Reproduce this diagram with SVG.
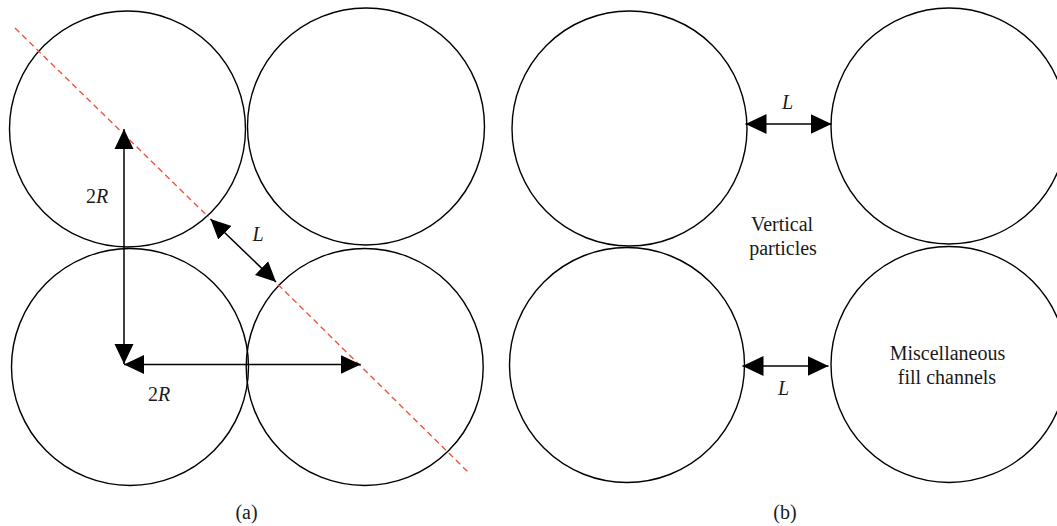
<svg xmlns="http://www.w3.org/2000/svg" width="1057" height="526" viewBox="0 0 1057 526">
<style>
.c{fill:none;stroke:#000;stroke-width:1.4}
.a{fill:none;stroke:#000;stroke-width:1.5}
.t{font-family:"Liberation Serif","Times New Roman",serif;font-size:20px;fill:#1a1a1a;text-anchor:middle}
.i{font-style:italic}
.red{fill:none;stroke:#f0553a;stroke-width:1.4;stroke-dasharray:6 4}
</style>
<defs>
<marker id="ah" markerUnits="userSpaceOnUse" markerWidth="20" markerHeight="20" viewBox="0 0 20 20" refX="20" refY="10" orient="auto-start-reverse">
<path d="M0,0.5 L20,10 L0,19.5 Z" fill="#000"/>
</marker>
<marker id="ah2" markerUnits="userSpaceOnUse" markerWidth="22" markerHeight="22" viewBox="0 0 22 22" refX="21" refY="11" orient="auto-start-reverse">
<path d="M0,1 L21,11 L0,21 Z" fill="#000"/>
</marker>
</defs>
<rect width="1057" height="526" fill="#fff"/>

<g id="panel-a">
<g id="a-tl"><circle class="c" cx="127.5" cy="129" r="118"/></g>
<g id="a-tr"><circle class="c" cx="366" cy="126.5" r="118.5"/></g>
<g id="a-bl"><circle class="c" cx="130" cy="367" r="118.5"/></g>
<g id="a-br"><circle class="c" cx="364.7" cy="367" r="118.5"/></g>
</g>

<g id="panel-b">
<g id="b-tl"><circle class="c" cx="629.5" cy="128.5" r="117.5"/></g>
<g id="b-tr"><circle class="c" cx="949" cy="126" r="118"/></g>
<g id="b-bl"><circle class="c" cx="627" cy="365" r="117.5"/></g>
<g id="b-br"><circle class="c" cx="949" cy="364.5" r="118"/></g>
</g>

<g id="connectors">
<path class="red" d="M15,28 L208.5,217"/>
<path class="red" d="M278,284.5 L469,473"/>
<line class="a" x1="124" y1="364" x2="124" y2="129" marker-end="url(#ah)" marker-start="url(#ah)"/>
<line class="a" x1="124" y1="364.5" x2="360.7" y2="364.5" marker-end="url(#ah)" marker-start="url(#ah)"/>
<line class="a" x1="210.5" y1="219" x2="276" y2="282" marker-end="url(#ah)" marker-start="url(#ah)"/>
<line class="a" x1="745.5" y1="124" x2="831.5" y2="124" marker-end="url(#ah2)" marker-start="url(#ah2)"/>
<line class="a" x1="742.5" y1="366" x2="828.5" y2="366" marker-end="url(#ah2)" marker-start="url(#ah2)"/>
</g>

<g id="labels">
<text class="t" x="97" y="203">2<tspan class="i">R</tspan></text>
<text class="t i" x="258" y="241">L</text>
<text class="t" x="159" y="401">2<tspan class="i">R</tspan></text>
<text class="t" x="246.5" y="519">(a)</text>
<text class="t i" x="787.5" y="109">L</text>
<text class="t i" x="783.5" y="395">L</text>
<text class="t" x="782" y="231">Vertical</text>
<text class="t" x="783" y="255">particles</text>
<text class="t" x="947.5" y="359.5">Miscellaneous</text>
<text class="t" x="947" y="384">fill channels</text>
<text class="t" x="785" y="519">(b)</text>
</g>
</svg>
